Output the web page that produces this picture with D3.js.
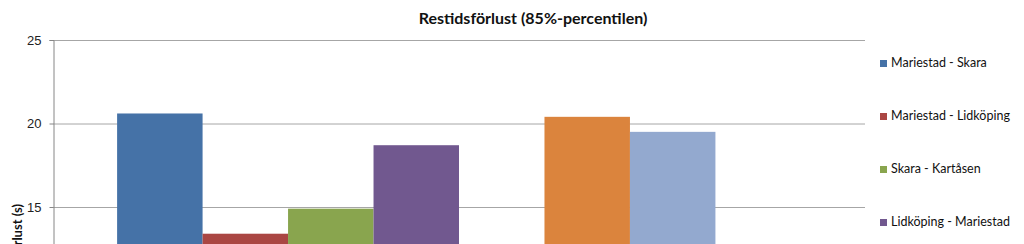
<!DOCTYPE html>
<html>
<head>
<meta charset="utf-8">
<script src="https://cdn.jsdelivr.net/npm/d3@7"></script>
<style>
  body { margin: 0; background: #fff; }
  svg { display: block; font-family: Lato, "Open Sans", sans-serif; }
</style>
</head>
<body>
<svg id="chart" width="1024" height="244"></svg>
<script>
// one category, eight routes; 5th and 8th fall below the visible crop
const series = ['Mariestad - Skara', 'Mariestad - Lidköping', 'Skara - Kartåsen', 'Lidköping - Mariestad',
    'Skara - Mariestad', 'Kartåsen - Skara', 'Lidköping - Skara', 'Skara - Lidköping'];
const values = [20.6, 13.4, 14.9, 18.7, 11.0, 20.4, 19.5, 11.0];
const colors = ['#4572A7', '#AA4643', '#89A54E', '#71588F', '#4198AF', '#DB843D', '#93A9CF', '#A47D7C'];
const yTicks = [0, 5, 10, 15, 20, 25];

const svg = d3.select('#chart');
const plotLeft = 53, plotRight = 865, plotTop = 40;
const unit = (207 - 40) / 10;

const y = d3.scaleLinear().domain([0, 25]).range([plotTop + 25 * unit, plotTop]);
const x = d3.scaleBand().domain(series).range([plotLeft, plotRight]).paddingOuter(0.75).paddingInner(0);

// grid
svg.append('g')
    .selectAll('line')
    .data(yTicks)
    .enter().append('line')
    .attr('x1', plotLeft).attr('x2', plotRight)
    .attr('y1', d => y(d) + 0.5).attr('y2', d => y(d) + 0.5)
    .style('stroke', '#a6a6a6');

// bars
svg.append('g')
    .selectAll('rect')
    .data(values)
    .enter().append('rect')
    .attr('x', (d, i) => x(series[i]))
    .attr('width', x.bandwidth())
    .attr('y', d => y(d))
    .attr('height', d => y(0) - y(d))
    .style('fill', (d, i) => colors[i]);

// y axis
const axis = svg.append('g')
    .attr('transform', `translate(${plotLeft + 0.5},0)`)
    .call(d3.axisLeft(y).tickValues(yTicks).tickSize(4).tickPadding(8));
axis.select('.domain').style('stroke', '#868686');
axis.selectAll('.tick line').style('stroke', '#868686');
axis.selectAll('.tick text').style('font-size', '13px').style('fill', '#222');

svg.append('text')
    .attr('transform', 'translate(22,204) rotate(-90)')
    .attr('text-anchor', 'end')
    .style('font-size', '13px')
    .style('font-weight', 'bold')
    .style('fill', '#111')
    .text('Restidsförlust (s)');

svg.append('text')
    .attr('x', 533).attr('y', 24)
    .attr('text-anchor', 'middle')
    .style('font-size', '16px')
    .style('font-weight', 'bold')
    .style('fill', '#111')
    .text('Restidsförlust (85%-percentilen)');

// legend
const legend = svg.append('g')
    .selectAll('g')
    .data(series)
    .enter().append('g')
    .attr('transform', (d, i) => `translate(880, ${67 + i * 53})`);

legend.append('rect')
    .attr('y', -7).attr('width', 7).attr('height', 7)
    .style('fill', (d, i) => colors[i]);

legend.append('text')
    .attr('x', 11)
    .style('font-size', '12.5px')
    .style('fill', '#111')
    .text(d => d);
</script>
</body>
</html>
